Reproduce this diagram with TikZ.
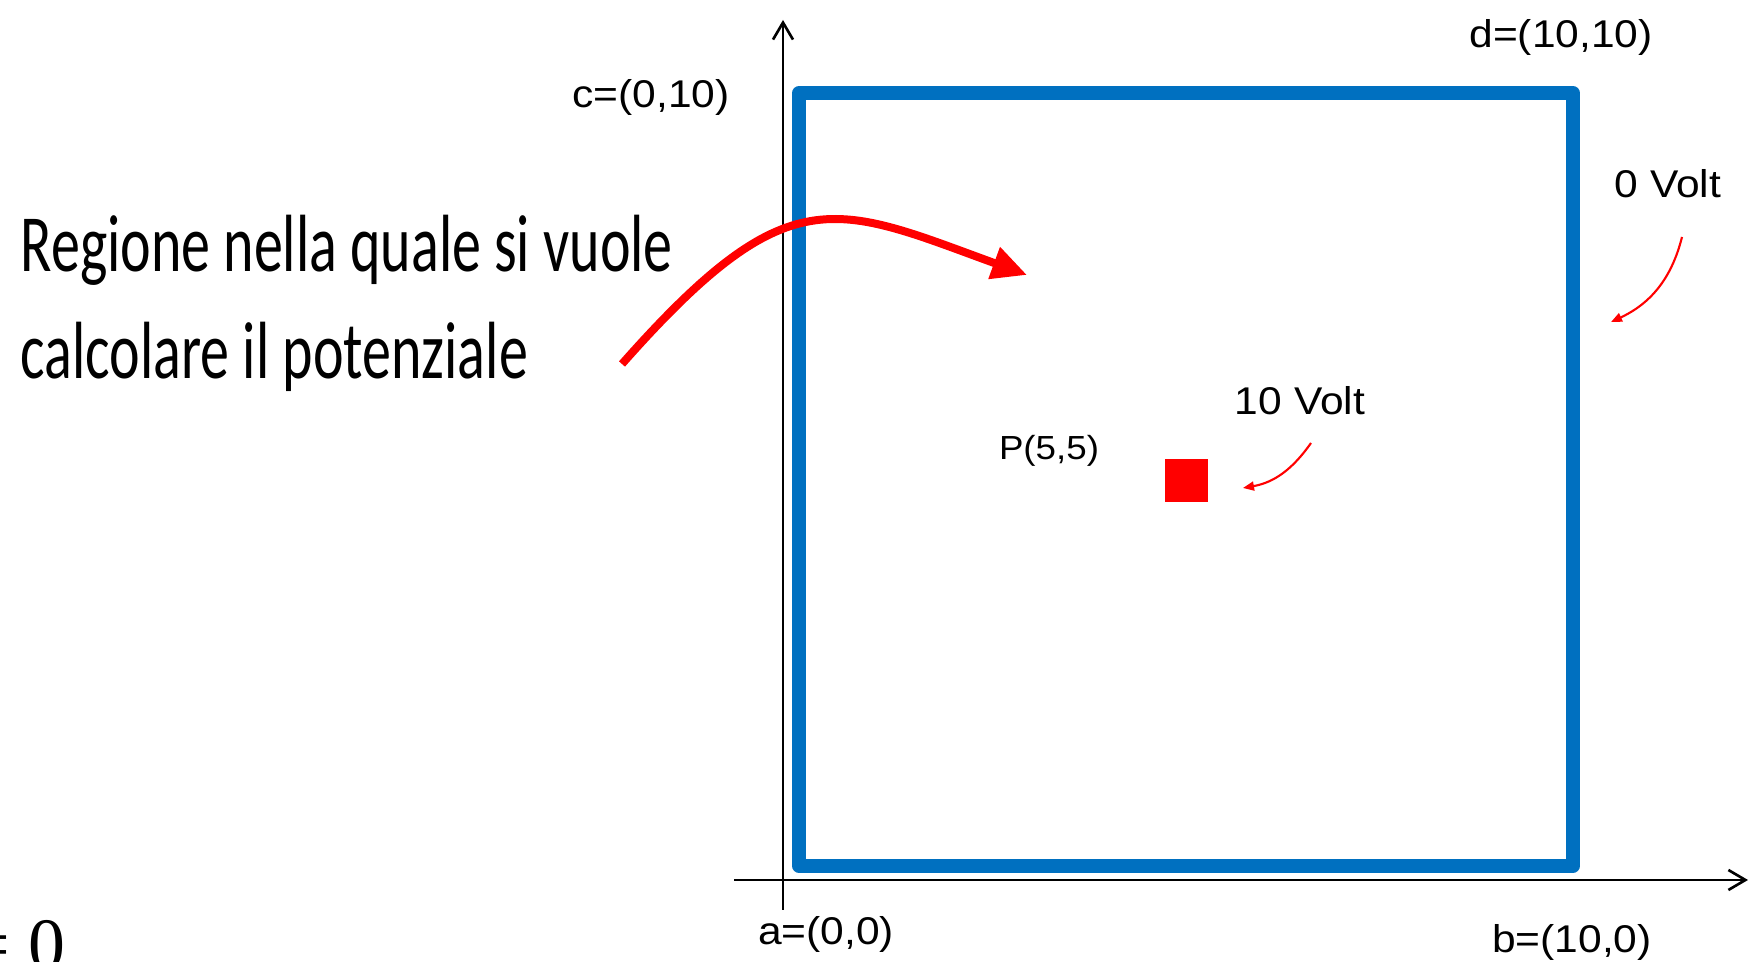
\documentclass[tikz,border=0pt]{standalone}
\usepackage{fontspec}
\setmainfont{Liberation Sans}
\newfontfamily\handfont{Carlito}
\newfontfamily\timesfont{Liberation Serif}
\usetikzlibrary{arrows.meta}
\definecolor{wallblue}{HTML}{0070C0}
\definecolor{hotred}{HTML}{FF0000}

\begin{document}
\begin{tikzpicture}[>=Stealth,font=\fontsize{11}{13}\selectfont,
  lbl/.style={anchor=base,xscale=1.1},
  hand/.style={anchor=base west,inner sep=0pt,yscale=1.4,font=\handfont\fontsize{16.5}{20}\selectfont},
  axis/.style={line width=0.75pt,-{Straight Barb[length=0.17cm,width=0.2cm]}},
  pointer/.style={hotred,line width=0.6pt,-{Triangle[length=0.11cm,width=0.09cm]}}]
\clip (0,0) rectangle (17.57,9.62);
\coordinate (ybot) at (7.83,0.52);
\coordinate (ytop) at (7.83,9.42);
\coordinate (xleft) at (7.34,0.82);
\coordinate (xright) at (17.48,0.82);
\draw[axis] (ybot) -- (ytop);
\draw[axis] (xleft) -- (xright);
\draw[wallblue,line width=0.135cm,line join=round] (7.99,0.96) rectangle (15.73,8.69);
\node[fill=hotred,minimum size=0.43cm,inner sep=0pt] (src) at (11.865,4.815) {};
\node[lbl] (lblA) at (8.26,0.17) {a=(0,0)};
\node[lbl] (lblB) at (15.72,0.09) {b=(10,0)};
\node[lbl] (lblC) at (6.51,8.54) {c=(0,10)};
\node[lbl] (lblD) at (15.61,9.14) {d=(10,10)};
\node[lbl] (volt0) at (16.68,7.64) {0 Volt};
\node[lbl] (volt10) at (13.00,5.47) {10 Volt};
\node[lbl,font=\fontsize{9.5}{11}\selectfont] (lblP) at (10.49,5.02) {P(5,5)};
\node[hand] (region1) at (0.20,6.90) {Regione nella quale si vuole};
\node[hand] (region2) at (0.20,5.83) {calcolare il potenziale};
\node[anchor=base east,inner sep=0pt,font=\timesfont\fontsize{21}{25}\selectfont] (eqzero) at (0.66,-0.08) {= 0};
\coordinate (bigfrom) at (6.22,5.98);
\coordinate (bigto) at (10.27,6.87);
\draw[hotred,line width=0.08cm,-{Triangle[length=0.35cm,width=0.32cm]}] (bigfrom) .. controls (7.89,7.87) and (8.35,7.57) .. (bigto);
\coordinate (tenfrom) at (13.11,5.19);
\coordinate (tento) at (12.43,4.74);
\draw[pointer] (tenfrom) to[out=235,in=10] (tento);
\coordinate (zerofrom) at (16.82,7.25);
\coordinate (zeroto) at (16.11,6.40);
\draw[pointer] (zerofrom) to[out=256,in=25] (zeroto);
\end{tikzpicture}
\end{document}
